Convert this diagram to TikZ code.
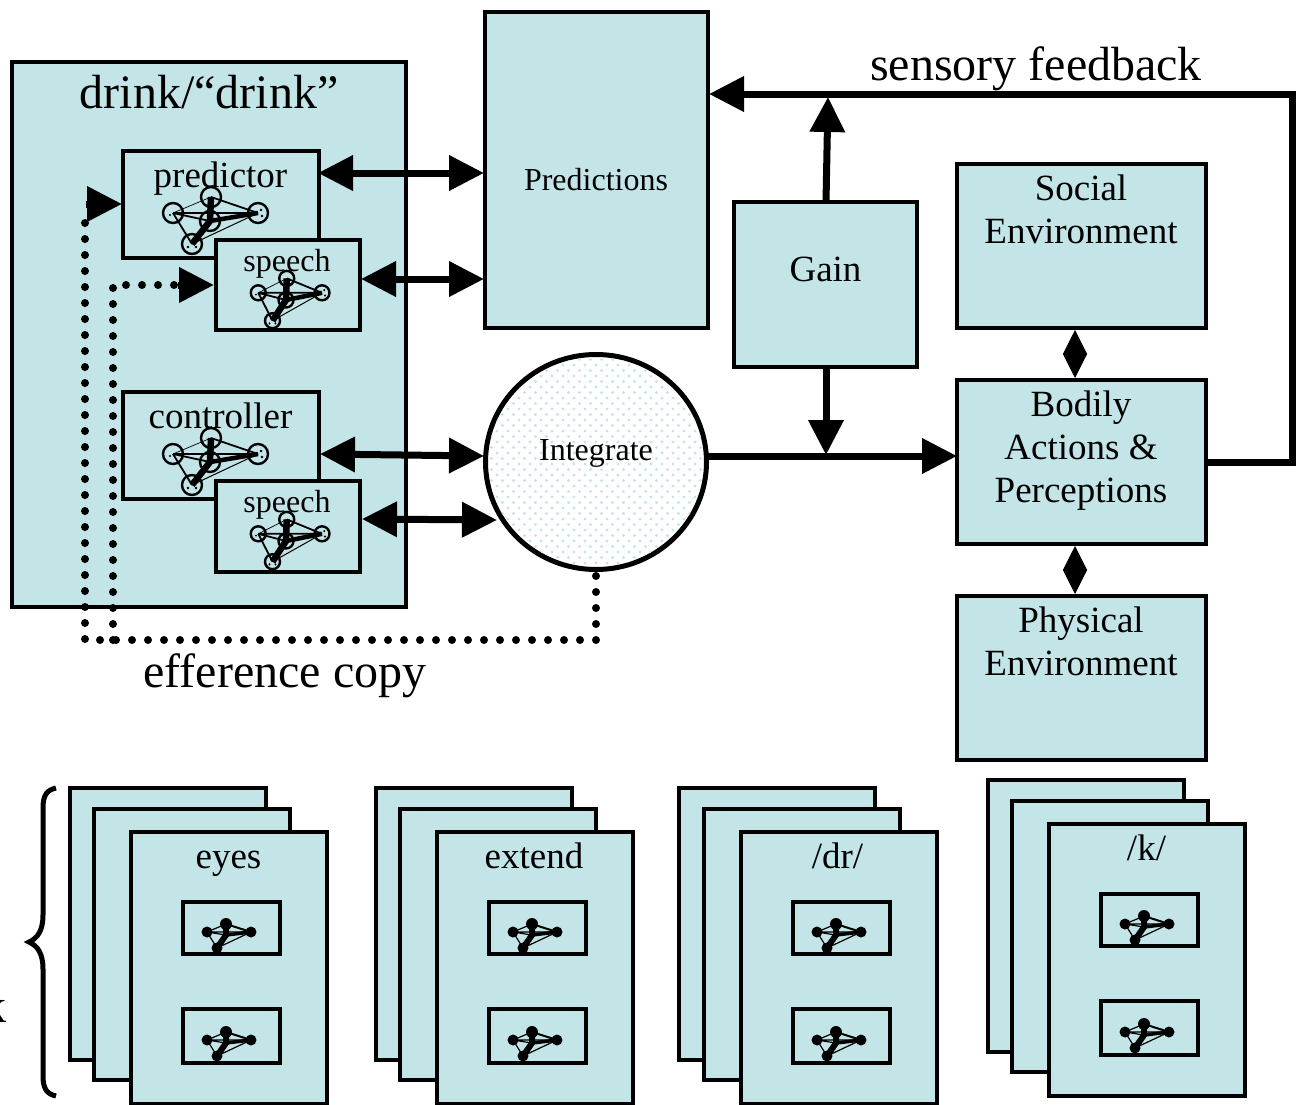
\documentclass[tikz,border=0pt]{standalone}
\usepackage{fontspec}
\setmainfont{Liberation Serif}
\usetikzlibrary{arrows.meta,shapes.geometric}
\definecolor{panel}{HTML}{C4E5E8}
\newcommand{\fsL}{\fontsize{48}{52}\selectfont}
\newcommand{\fsM}{\fontsize{37}{43}\selectfont}
\newcommand{\fsS}{\fontsize{32}{36}\selectfont}
\tikzset{
  box/.style={draw=black,fill=panel,line width=4pt,rectangle,inner sep=0pt,outer sep=0pt},
  txt/.style={inner sep=0pt,outer sep=0pt,anchor=base,text=black},
  mtxt/.style={inner sep=0pt,outer sep=0pt,align=center,text=black,font=\fsM},
  bigarrow/.style={line width=7pt,-{Triangle[length=35pt,width=34pt]}},
  bigdouble/.style={line width=7pt,{Triangle[length=35pt,width=34pt]}-{Triangle[length=35pt,width=34pt]}},
  dotline/.style={line width=8pt,line cap=round,dash pattern=on 0pt off 16pt},
  diam/.style={line width=1pt,{Triangle[length=24pt,width=24pt]}-{Triangle[length=24pt,width=24pt]}},
  mring/.style={circle,draw=black,line width=2.4pt,inner sep=0pt,outer sep=0pt},
  mdisc/.style={circle,fill=black,inner sep=0pt,outer sep=0pt},
}
% \bx{name}{x1}{y1}{x2}{y2}
\newcommand{\bx}[5]{%
  \pgfmathsetmacro{\bw}{#4-#2}\pgfmathsetmacro{\bh}{#5-#3}%
  \pgfmathsetmacro{\bcx}{(#4+#2)/2}\pgfmathsetmacro{\bcy}{(#5+#3)/2}%
  \node[box,minimum width=\bw pt,minimum height=\bh pt] (#1) at (\bcx,\bcy) {};}
% ring network: prefix, centre x, y, x scale, y scale, ring diameter
\newcommand{\ringnet}[6]{%
  \begin{scope}[shift={(#2,#3)},xscale=#4,yscale=#5]
    \node[mring,minimum size=#6pt] (#1a) at (-37,-8) {};
    \node[mring,minimum size=#6pt] (#1b) at (1,-24) {};
    \node[mring,minimum size=#6pt] (#1c) at (48,-8) {};
    \node[mring,minimum size=#6pt] (#1d) at (0,0) {};
    \node[mring,minimum size=#6pt] (#1e) at (-18,23) {};
    \draw[line width=.7pt] (#1a.center) -- (#1b.center);
    \draw[line width=1pt] (#1e.center) -- (#1c.center);
    \draw[line width=1.8pt] (#1a.center) -- (#1c.center) (#1b.center) -- (#1c.center) (#1a.center) -- (#1d.center) (#1a.center) -- (#1e.center);
    \draw[line width=4.5pt] (#1d.center) -- (#1c.center);
    \draw[line width=6.5pt] (#1b.center) -- (#1d.center) -- (#1e.center);
    \fill ([shift={(3,-3)}]#1c.center) circle[radius=1.4pt] ([shift={(4,3)}]#1c.center) circle[radius=1.4pt]
          ([shift={(-4,3)}]#1e.center) circle[radius=1.4pt] ([shift={(4,3)}]#1e.center) circle[radius=1.4pt]
          ([shift={(-3,2)}]#1a.center) circle[radius=1.2pt];
  \end{scope}}
% filled network
\newcommand{\discnet}[3]{%
  \begin{scope}[shift={(#2,#3)}]
    \node[mdisc,minimum size=11pt] (#1a) at (-19,-3) {};
    \node[mdisc,minimum size=12pt] (#1b) at (0,-11) {};
    \node[mdisc,minimum size=11pt] (#1c) at (25,-3) {};
    \node[mdisc,minimum size=11pt] (#1e) at (-9,13) {};
    \coordinate (#1d) at (0,0);
    \draw[line width=1.2pt] (#1a.center) -- (#1b.center) (#1a.center) -- (#1c.center) (#1e.center) -- (#1c.center) (#1a.center) -- (#1e.center) (#1a.center) -- (#1d);
    \draw[line width=2pt] (#1b.center) -- (#1c.center);
    \draw[line width=3.5pt] (#1d) -- (#1c.center);
    \draw[line width=6pt] (#1b.center) -- (#1d) -- (#1e.center);
  \end{scope}}
% card stack: prefix, x back, x mid, x front, y back, y mid, y front
\newcommand{\card}[7]{%
  \pgfmathsetmacro{\xa}{#2+196}\pgfmathsetmacro{\xb}{#3+196}\pgfmathsetmacro{\xc}{#4+196}%
  \pgfmathsetmacro{\ya}{#5+272}\pgfmathsetmacro{\yb}{#6+271}\pgfmathsetmacro{\yc}{#7+272}%
  \bx{#1back}{#2}{#5}{\xa}{\ya}
  \bx{#1mid}{#3}{#6}{\xb}{\yb}
  \bx{#1front}{#4}{#7}{\xc}{\yc}
  \pgfmathsetmacro{\ia}{#4+52}\pgfmathsetmacro{\ib}{#4+149}%
  \pgfmathsetmacro{\ic}{#7+70}\pgfmathsetmacro{\id}{#7+122}\pgfmathsetmacro{\ie}{#7+177}\pgfmathsetmacro{\ig}{#7+231}%
  \bx{#1ia}{\ia}{\ic}{\ib}{\id}
  \bx{#1ib}{\ia}{\ie}{\ib}{\ig}
  \pgfmathsetmacro{\na}{#4+95}\pgfmathsetmacro{\nb}{#7+103}\pgfmathsetmacro{\nc}{#7+211}%
  \discnet{#1na}{\na}{\nb}
  \discnet{#1nb}{\na}{\nc}}
\begin{document}
\begin{tikzpicture}[x=1pt,y=-1pt]
\useasboundingbox (0,0) rectangle (1306,1104);
\fill[white] (0,0) rectangle (1306,1104);

% drink panel
\bx{drink}{12}{62}{406}{607}
\node[txt,font=\fsL] (drinklabel) at (209,108) {drink/“drink”};
\bx{predictor}{123}{151}{319}{258}
\node[txt,font=\fsM] (predlabel) at (220.5,187) {predictor};
\ringnet{pn}{210}{221}{1}{1}{20}
\bx{speechA}{216}{240}{360}{330}
\node[txt,font=\fsS] (speechAlabel) at (287,271) {speech};
\ringnet{sa}{286}{300}{.75}{.9}{15}
\bx{controller}{123}{392}{319}{499}
\node[txt,font=\fsM] (contlabel) at (220.5,428) {controller};
\ringnet{cn}{210}{462}{1}{1}{20}
\bx{speechB}{216}{481}{360}{572}
\node[txt,font=\fsS] (speechBlabel) at (287,512) {speech};
\ringnet{sb}{286}{541}{.75}{.9}{15}

% Predictions, Gain
\bx{predictions}{485}{12}{708}{328}
\node[txt,font=\fsS] (predictionslabel) at (596,190) {Predictions};
\bx{gain}{734}{202}{917}{367}
\node[txt,font=\fsM] (gainlabel) at (825.5,281) {Gain};

% Integrate
\node[ellipse,draw=black,line width=5pt,fill=white,minimum width=221pt,minimum height=215pt,inner sep=0pt,outer sep=0pt] (integrate) at (596,462) {};
\begin{scope}
  \clip (596,462) ellipse[x radius=108,y radius=105];
  \foreach \r in {0,...,40} {
    \pgfmathsetmacro{\yy}{354+\r*5.5}
    \pgfmathsetmacro{\off}{mod(\r,2)*5.5}
    \foreach \c in {0,...,21} {
      \pgfmathsetmacro{\xx}{486+\off+\c*11}
      \fill[panel] (\xx,\yy) circle (1.6);
    }
  }
\end{scope}
\node[txt,font=\fsS] (integratelabel) at (596,460) {Integrate};

% environment
\bx{social}{957}{164}{1206}{328}
\node[mtxt,anchor=north] (sociallabel) at (1081,175) {Social\\Environment};
\bx{bodily}{957}{380}{1206}{544}
\node[mtxt,anchor=north] (bodilylabel) at (1081,391) {Bodily\\Actions \&\\Perceptions};
\bx{physical}{957}{596}{1206}{760}
\node[mtxt,anchor=north] (physicallabel) at (1081,607) {Physical\\Environment};

% outside labels
\node[txt,font=\fsL] (feedbacklabel) at (1036,80) {sensory feedback};
\node[txt,font=\fsL] (efferencelabel) at (285,687) {efference copy};

% connectors
\coordinate (p1) at (318,173); \coordinate (p2) at (484,173);
\draw[bigdouble] (p1) -- (p2);
\coordinate (p3) at (361,279); \coordinate (p4) at (484,279);
\draw[bigdouble] (p3) -- (p4);
\coordinate (p5) at (320,454); \coordinate (p6) at (484,456);
\draw[bigdouble] (p5) -- (p6);
\coordinate (p7) at (362,519); \coordinate (p8) at (497,520);
\draw[bigdouble] (p7) -- (p8);
\coordinate (i1) at (708,456); \coordinate (i2) at (957,456);
\draw[bigarrow] (i1) -- (i2);
\coordinate (g1) at (826,202); \coordinate (g2) at (828,97);
\draw[bigarrow] (g1) -- (g2);
\coordinate (g3) at (826,367); \coordinate (g4) at (826,455);
\draw[bigarrow] (g3) -- (g4);
\coordinate (f1) at (1206,462); \coordinate (f2) at (1292,462); \coordinate (f3) at (1292,94); \coordinate (f4) at (709,94);
\draw[bigarrow,line join=miter] (f1) -- (f2) -- (f3) -- (f4);
\coordinate (d1) at (1075,330); \coordinate (d2) at (1075,378);
\draw[diam] (d1) -- (d2);
\coordinate (d3) at (1075,546); \coordinate (d4) at (1075,594);
\draw[diam] (d3) -- (d4);

% efference copy
\coordinate (e1) at (596,576); \coordinate (e2) at (596,640); \coordinate (e3) at (85,640); \coordinate (e4) at (85,216);
\draw[dotline] (e1) -- (e2) -- (e3) -- (e4);
\coordinate (e5) at (86,204); \coordinate (e6) at (122,204);
\draw[bigarrow] (e5) -- (e6);
\coordinate (e7) at (113,640); \coordinate (e8) at (113,285); \coordinate (e9) at (178,285);
\draw[dotline] (e7) -- (e8) -- (e9);
\coordinate (e10) at (178,285); \coordinate (e11) at (214,285);
\draw[bigarrow] (e10) -- (e11);

% stacks
\card{s}{70}{94}{131}{788}{809}{832}
\node[txt,font=\fsM] (eyeslabel) at (228.5,868) {eyes};
\card{t}{376}{400}{437}{788}{809}{832}
\node[txt,font=\fsM] (extendlabel) at (534,868) {extend};
\card{u}{679}{704}{741}{788}{809}{832}
\node[txt,font=\fsM] (drlabel) at (837.5,868) {/dr/};
\card{v}{988}{1012}{1049}{780}{801}{824}
\node[txt,font=\fsM] (klabel) at (1146.5,860) {/k/};

% brace
\coordinate (b1) at (56,788); \coordinate (b2) at (29,942); \coordinate (b3) at (56,1096);
\draw[line width=5pt] (b1) .. controls (47,790) and (43,795) .. (43,808) -- (43,915) .. controls (43,930) and (38,938) .. (b2) .. controls (38,946) and (43,954) .. (43,969) -- (43,1076) .. controls (43,1089) and (47,1094) .. (b3);
\node[txt,font=\fsL,anchor=base east] (cutlabel) at (7,1022) {k};
\end{tikzpicture}
\end{document}
